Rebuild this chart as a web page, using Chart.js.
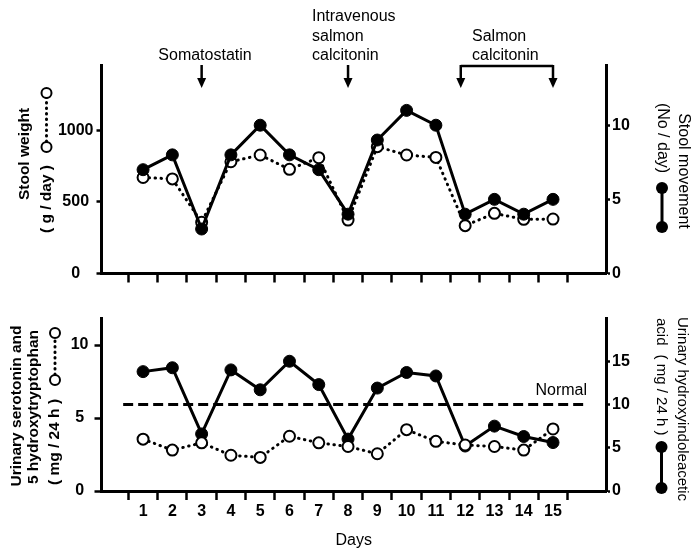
<!DOCTYPE html>
<html>
<head>
<meta charset="utf-8">
<script src="https://cdn.jsdelivr.net/npm/chart.js@4.4.0/dist/chart.umd.min.js"></script>
<style>
  html, body { margin: 0; padding: 0; background: #fff; }
  #wrap { position: relative; width: 691px; height: 549px; }
  canvas { position: absolute; left: 0; }
  #top { top: 0; }
  #bottom { top: 300px; }
</style>
</head>
<body>
<div id="wrap">
  <canvas id="top" width="691" height="300"></canvas>
  <canvas id="bottom" width="691" height="249"></canvas>
</div>
<script>
// data
const days = [1, 2, 3, 4, 5, 6, 7, 8, 9, 10, 11, 12, 13, 14, 15];
const stoolWeight = [670, 660, 357, 780, 827, 727, 808, 373, 885, 827, 810, 334, 420, 378, 380];   // g/day
const stoolMovement = [7, 8, 3, 8, 10, 8, 7, 4, 9, 11, 10, 4, 5, 4, 5];                           // no/day
const serotonin = [3.55, 2.8, 3.3, 2.45, 2.3, 3.75, 3.3, 3.05, 2.55, 4.2, 3.4, 3.15, 3.05, 2.8, 4.25]; // mg/24h
const hiaa = [13.8, 14.25, 6.6, 14.0, 11.7, 15.0, 12.3, 6.0, 11.9, 13.7, 13.3, 5.2, 7.5, 6.3, 5.6];    // mg/24h
const normalLevel = 10;
const normalSpan = [0.32, 16.15];

// axis ticks
const dayTicks = [0.5, 1, 1.5, 2, 2.5, 3, 3.5, 4, 4.5, 5, 5.5, 6, 6.5, 7, 7.5, 8, 8.5,
                  9, 9.5, 10, 10.5, 11, 11.5, 12, 12.5, 13, 13.5, 14, 14.5, 15, 15.5];
const weightTicks = [0, 500, 1000];
const movementTicks = [0, 5, 10];
const serotoninTicks = [0, 5, 10];
const hiaaTicks = [0, 5, 10, 15];

const FONT = '"Liberation Sans", Arial, Helvetica, sans-serif';
Chart.defaults.font.family = FONT;
Chart.defaults.color = '#000';

const pts = ys => days.map((d, i) => ({ x: d, y: ys[i] }));

function dayAxis(showLabels, height, title) {
  return {
    type: 'linear', position: 'bottom', min: -0.42, max: 16.81,
    afterBuildTicks: s => { s.ticks = dayTicks.map(v => ({ value: v })); },
    afterFit: s => { s.height = height; },
    border: { display: true, color: '#000', width: 3 },
    grid: {
      drawOnChartArea: false, drawTicks: true, tickLength: 9, tickWidth: 2.5,
      tickColor: c => (c.tick && Number.isInteger(c.tick.value)) ? 'rgba(0,0,0,0)' : '#000'
    },
    ticks: {
      display: showLabels, autoSkip: false, maxRotation: 0, minRotation: 0, padding: 2,
      font: { size: 16, weight: 'bold' }, color: '#000',
      callback: v => Number.isInteger(v) ? String(v) : ''
    },
    title: title
      ? { display: true, text: title, font: { size: 16, lineHeight: 1 }, padding: { top: 0, bottom: 0 }, color: '#000' }
      : { display: false }
  };
}

function valueAxis(position, max, tickVals, width, tickLength, padding, crossAlign) {
  return {
    type: 'linear', position: position, min: 0, max: max,
    afterBuildTicks: s => { s.ticks = tickVals.map(v => ({ value: v })); },
    afterFit: s => { s.width = width; },
    border: { display: true, color: '#000', width: 3 },
    grid: { drawOnChartArea: false, drawTicks: true, tickLength: tickLength, tickWidth: 2.5, tickColor: '#000' },
    ticks: {
      padding: padding, crossAlign: crossAlign, font: { size: 16, weight: 'bold' }, color: '#000',
      callback: v => String(v)
    }
  };
}

const solidSet = (label, ys, axis) => ({
  label: label, data: pts(ys), yAxisID: axis,
  borderColor: '#000', borderWidth: 3, tension: 0,
  pointRadius: 6, pointBackgroundColor: '#000', pointBorderColor: '#000', pointBorderWidth: 1
});
const dottedSet = (label, ys, axis) => ({
  label: label, data: pts(ys), yAxisID: axis,
  borderColor: '#000', borderWidth: 3, tension: 0,
  borderDash: [0.5, 5.5], borderCapStyle: 'round',
  pointRadius: 5.5, pointBackgroundColor: '#fff', pointBorderColor: '#000', pointBorderWidth: 2
});

// drawing helpers for the annotations
function arrow(ctx, x, y0, y1) {
  ctx.save();
  ctx.lineWidth = 2.5;
  ctx.beginPath(); ctx.moveTo(x, y0); ctx.lineTo(x, y1 - 8); ctx.stroke();
  ctx.beginPath(); ctx.moveTo(x - 4.5, y1 - 10); ctx.lineTo(x + 4.5, y1 - 10); ctx.lineTo(x, y1); ctx.closePath(); ctx.fill();
  ctx.restore();
}
function vtext(ctx, str, x, y, rot, align) {
  ctx.save();
  ctx.translate(x, y); ctx.rotate(rot);
  ctx.textAlign = align || 'center'; ctx.textBaseline = 'middle';
  ctx.fillText(str, 0, 0);
  ctx.restore();
}
function openKey(ctx, x, yA, yB) {
  ctx.save();
  ctx.lineWidth = 3; ctx.lineCap = 'round'; ctx.setLineDash([0.5, 5]);
  ctx.beginPath(); ctx.moveTo(x, yA); ctx.lineTo(x, yB); ctx.stroke();
  ctx.setLineDash([]); ctx.lineWidth = 2; ctx.fillStyle = '#fff';
  [yA, yB].forEach(y => { ctx.beginPath(); ctx.arc(x, y, 5, 0, Math.PI * 2); ctx.fill(); ctx.stroke(); });
  ctx.restore();
}
function filledKey(ctx, x, yA, yB) {
  ctx.save();
  ctx.lineWidth = 3;
  ctx.beginPath(); ctx.moveTo(x, yA); ctx.lineTo(x, yB); ctx.stroke();
  [yA, yB].forEach(y => { ctx.beginPath(); ctx.arc(x, y, 6, 0, Math.PI * 2); ctx.fill(); });
  ctx.restore();
}

const topDecor = {
  id: 'topDecor',
  afterDraw(chart) {
    const ctx = chart.ctx, xs = chart.scales.x;
    ctx.save();
    ctx.fillStyle = '#000'; ctx.strokeStyle = '#000';
    ctx.font = '16px ' + FONT;
    ctx.textBaseline = 'middle';
    ctx.textAlign = 'center';
    ctx.fillText('Somatostatin', 205, 56);
    ctx.textAlign = 'left';
    ctx.fillText('Intravenous', 312, 17);
    ctx.fillText('salmon', 312, 37);
    ctx.fillText('calcitonin', 312, 56);
    ctx.fillText('Salmon', 472, 37);
    ctx.fillText('calcitonin', 472, 56);
    arrow(ctx, xs.getPixelForValue(3), 65, 88);
    arrow(ctx, xs.getPixelForValue(8), 65, 88);
    const bx0 = xs.getPixelForValue(11.85), bx1 = xs.getPixelForValue(15);
    ctx.lineWidth = 2.5;
    ctx.beginPath(); ctx.moveTo(bx0, 66); ctx.lineTo(bx1, 66); ctx.stroke();
    arrow(ctx, bx0, 65, 88);
    arrow(ctx, bx1, 65, 88);
    // side labels
    ctx.font = 'bold 15.5px ' + FONT;
    vtext(ctx, 'Stool weight', 25, 154, -Math.PI / 2);
    vtext(ctx, '( g / day )', 46.5, 199, -Math.PI / 2);
    openKey(ctx, 46.5, 147, 93);
    ctx.font = '16px ' + FONT;
    vtext(ctx, 'Stool movement', 683, 171, Math.PI / 2);
    vtext(ctx, '(No / day)', 662, 138, Math.PI / 2);
    filledKey(ctx, 662, 188, 227);
    ctx.restore();
  }
};

const bottomDecor = {
  id: 'bottomDecor',
  afterDraw(chart) {
    const ctx = chart.ctx;
    ctx.save();
    ctx.fillStyle = '#000'; ctx.strokeStyle = '#000';
    ctx.font = '16px ' + FONT;
    ctx.textBaseline = 'middle'; ctx.textAlign = 'right';
    ctx.fillText('Normal', 587, 91);
    ctx.font = 'bold 15.5px ' + FONT;
    vtext(ctx, 'Urinary serotonin and', 16.5, 106, -Math.PI / 2);
    vtext(ctx, '5 hydroxytryptophan', 33.5, 107, -Math.PI / 2);
    vtext(ctx, '( mg / 24 h )', 55, 142, -Math.PI / 2);
    openKey(ctx, 55, 80, 33);
    ctx.font = '15px ' + FONT;
    vtext(ctx, 'Urinary hydroxyindoleacetic', 682, 109, Math.PI / 2);
    vtext(ctx, 'acid', 661.5, 18, Math.PI / 2, 'left');
    vtext(ctx, '( mg / 24 h )', 661.5, 95, Math.PI / 2);
    filledKey(ctx, 661.5, 147, 188);
    ctx.restore();
  }
};

const common = {
  responsive: false, animation: false, devicePixelRatio: 1, events: [],
  plugins: { legend: { display: false }, tooltip: { enabled: false } }
};

new Chart(document.getElementById('top'), {
  type: 'line',
  data: {
    datasets: [
      solidSet('Stool movement', stoolMovement, 'yR'),
      dottedSet('Stool weight', stoolWeight, 'yL')
    ]
  },
  options: Object.assign({}, common, {
    layout: { padding: { top: 65, left: 0, right: 0, bottom: 0 } },
    scales: {
      x: dayAxis(false, 26.5),
      yL: valueAxis('left', 1455, weightTicks, 101.5, 5, 3, 'center'),
      yR: valueAxis('right', 14.06, movementTicks, 85, 4, 2, 'near')
    }
  }),
  plugins: [topDecor]
});

new Chart(document.getElementById('bottom'), {
  type: 'line',
  data: {
    datasets: [
      dottedSet('Urinary serotonin and 5 hydroxytryptophan', serotonin, 'yL'),
      solidSet('Urinary hydroxyindoleacetic acid', hiaa, 'yR'),
      {
        label: 'Normal', yAxisID: 'yR',
        data: normalSpan.map(x => ({ x: x, y: normalLevel })),
        borderColor: '#000', borderWidth: 3, borderDash: [10, 5], pointRadius: 0
      }
    ]
  },
  options: Object.assign({}, common, {
    layout: { padding: { top: 18, left: 0, right: 0, bottom: 0 } },
    scales: {
      x: dayAxis(true, 58, 'Days'),
      yL: valueAxis('left', 11.85, serotoninTicks, 101.5, 7, 6, 'center'),
      yR: valueAxis('right', 20, hiaaTicks, 85, 4, 2, 'near')
    }
  }),
  plugins: [bottomDecor]
});
</script>
</body>
</html>
